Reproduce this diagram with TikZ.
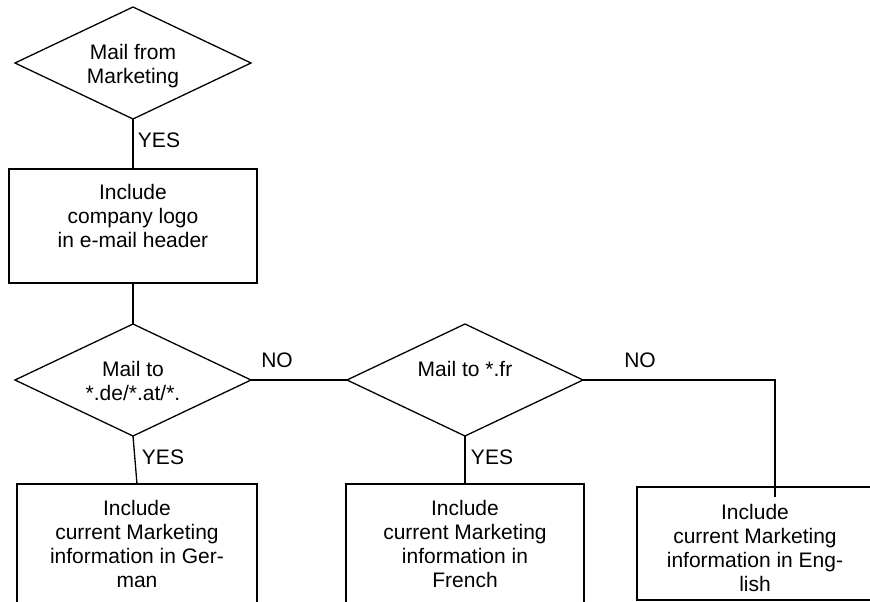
\documentclass[tikz,border=0pt]{standalone}
\usepackage{fontspec}
\setmainfont{Liberation Sans}
\usetikzlibrary{shapes.geometric}
\begin{document}
\begin{tikzpicture}[x=1pt,y=-1pt,
  line width=1.3pt,
  txt/.style={font=\fontsize{21}{24}\selectfont, align=center, inner sep=0pt},
  dec/.style={draw, diamond, minimum width=236pt, minimum height=112pt, inner sep=0pt, outer sep=0pt, aspect=2.1, txt},
  boxn/.style={draw, rectangle, outer sep=0pt, inner sep=0pt},
  lab/.style={font=\fontsize{21}{24}\selectfont, inner sep=0pt}]
\useasboundingbox (0,0) rectangle (870,602);
\clip (0,0) rectangle (870,602);
% decisions
\node[dec] (d1) at (133,63) {};
\node[txt, anchor=north] (l1) at (133,44) {Mail from\\Marketing};
\node[dec] (d2) at (133,380) {};
\node[txt, anchor=north] (l2) at (133,361) {Mail to\\*.de/*.at/*.};
\node[dec] (d3) at (465,380) {};
\node[txt, anchor=north] (l3) at (465,361) {Mail to *.fr};
% boxes
\node[boxn, minimum width=248pt, minimum height=114pt] (b1) at (133,226) {};
\node[boxn, minimum width=240pt, minimum height=156pt] (b2) at (137,562) {};
\node[boxn, minimum width=238pt, minimum height=156pt] (b3) at (465,562) {};
\node[boxn, minimum width=236pt, minimum height=113pt] (b4) at (755,543.5) {};
% box texts
\node[txt, anchor=north] (t1) at ([yshift=-15pt]b1.north) {Include\\company logo\\in e-mail header};
\node[txt, anchor=north] (t2) at ([yshift=-16pt]b2.north) {Include\\current Marketing\\information in Ger-\\man};
\node[txt, anchor=north] (t3) at ([yshift=-16pt]b3.north) {Include\\current Marketing\\information in\\French};
\node[txt, anchor=north] (t4) at ([yshift=-17pt]b4.north) {Include\\current Marketing\\information in Eng-\\lish};
% connectors
\coordinate (e4) at (775,497);
\draw (d1.south) -- (b1.north);
\draw (b1.south) -- (d2.north);
\draw (d2.east) -- (d3.west);
\draw (d2.south) -- (b2.north);
\draw (d3.south) -- (b3.north);
\draw (d3.east) -| (e4);
% labels
\node[lab] (y1) at (159,140) {YES};
\node[lab] (y2) at (163,457) {YES};
\node[lab] (y3) at (492,457) {YES};
\node[lab] (n1) at (277,360) {NO};
\node[lab] (n2) at (640,360) {NO};
\end{tikzpicture}
\end{document}
